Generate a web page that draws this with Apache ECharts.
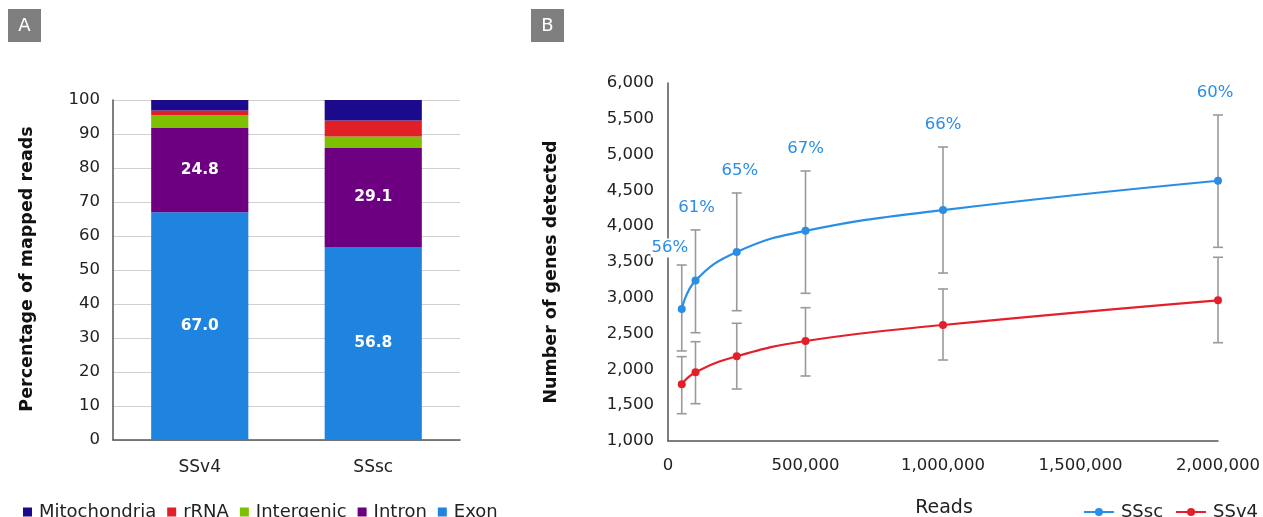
<!DOCTYPE html>
<html>
<head>
<meta charset="utf-8">
<script src="https://cdn.jsdelivr.net/npm/echarts@6/dist/echarts.min.js"></script>
<style>
  html, body { margin: 0; padding: 0; background: #fff; }
  #chart { width: 1263px; height: 517px; }
</style>
</head>
<body>
<div id="chart"></div>
<script>
// Panel A: composition of mapped reads (percent)
const libraries = ['SSv4', 'SSsc'];
const exon = [67.0, 56.8];
const intron = [24.8, 29.1];
const intergenic = [3.7, 3.4];
const rRNA = [1.4, 4.7];
const mitochondria = [3.1, 6.0];
const percentTicks = { min: 0, max: 100, step: 10 };

// Panel B: genes detected versus sequencing depth (mean with error range)
const reads = [50000, 100000, 250000, 500000, 1000000, 2000000];
const ssscMean = [2845, 3240, 3640, 3935, 4225, 4635];
const ssscLow = [2258, 2512, 2820, 3063, 3346, 3705];
const ssscHigh = [3458, 3948, 4464, 4771, 5106, 5553];
const ssv4Mean = [1792, 1959, 2183, 2397, 2620, 2965];
const ssv4Low = [1381, 1521, 1726, 1908, 2131, 2373];
const ssv4High = [2178, 2387, 2644, 2862, 3123, 3566];
const ssscRate = ['56%', '61%', '65%', '67%', '66%', '60%'];
const genesTicks = { min: 1000, max: 6000, step: 500 };
const readsTicks = { min: 0, max: 2000000, step: 500000 };

// label nudges (pixels) for the rate labels above the SSsc whiskers
const rateNudge = [[-12, 5], [1, 0], [3, 0], [0, 0], [0, 0], [-3, 0]];

const FONT = 'DejaVu Sans';
const TEXT = '#222222';
const COLORS = {
  Mitochondria: '#1c0a8c',
  rRNA: '#e01f26',
  Intergenic: '#7dc000',
  Intron: '#6c0080',
  Exon: '#1e84e0'
};
const BLUE = '#2a8de6';
const RED = '#e3202a';

const fmt = v => Number(v).toLocaleString('en-US');

function stackSeries(name, values, showLabel) {
  return {
    name: name,
    type: 'bar',
    stack: 'mapped',
    xAxisIndex: 0,
    yAxisIndex: 0,
    barWidth: '56%',
    itemStyle: { color: COLORS[name] },
    label: {
      show: showLabel,
      position: 'inside',
      color: '#ffffff',
      fontFamily: FONT,
      fontWeight: 'bold',
      fontSize: 15.5,
      formatter: p => p.value.toFixed(1)
    },
    data: values
  };
}

function errorSeries(name, lows, highs, texts) {
  return {
    name: name + ' range',
    type: 'custom',
    xAxisIndex: 1,
    yAxisIndex: 1,
    z: 1,
    silent: true,
    data: reads.map((r, i) => [r, lows[i], highs[i], i]),
    encode: { x: 0, y: [1, 2] },
    renderItem: function (params, api) {
      const x = api.value(0);
      const lo = api.coord([x, api.value(1)]);
      const hi = api.coord([x, api.value(2)]);
      const cap = 5;
      const style = { stroke: '#9a9a9a', lineWidth: 1.6 };
      const children = [
        { type: 'line', shape: { x1: lo[0], y1: lo[1], x2: hi[0], y2: hi[1] }, style: style },
        { type: 'line', shape: { x1: hi[0] - cap, y1: hi[1], x2: hi[0] + cap, y2: hi[1] }, style: style },
        { type: 'line', shape: { x1: lo[0] - cap, y1: lo[1], x2: lo[0] + cap, y2: lo[1] }, style: style }
      ];
      if (texts) {
        const i = api.value(3);
        const n = rateNudge[i];
        children.push({
          type: 'text',
          z2: 10,
          style: {
            text: texts[i],
            x: hi[0] + n[0],
            y: hi[1] - 22 + n[1],
            align: 'center',
            verticalAlign: 'middle',
            fill: BLUE,
            font: '16.5px "' + FONT + '"',
            backgroundColor: '#ffffff',
            padding: [1, 1]
          }
        });
      }
      return { type: 'group', children: children };
    }
  };
}

function lineSeries(name, means, color) {
  return {
    name: name,
    type: 'line',
    xAxisIndex: 1,
    yAxisIndex: 1,
    z: 3,
    smooth: 0.45,
    symbol: 'circle',
    symbolSize: 8,
    lineStyle: { color: color, width: 2.2 },
    itemStyle: { color: color },
    data: reads.map((r, i) => [r, means[i]])
  };
}

const chart = echarts.init(document.getElementById('chart'), null, { renderer: 'canvas' });

const option = {
  animation: false,
  backgroundColor: '#ffffff',
  textStyle: { fontFamily: FONT, color: TEXT },
  grid: [
    { left: 113, top: 100, width: 347, height: 340 },
    { left: 668, top: 83, width: 550, height: 358 }
  ],
  legend: [
    {
      data: ['Mitochondria', 'rRNA', 'Intergenic', 'Intron', 'Exon'],
      left: 18,
      top: 498,
      icon: 'rect',
      itemWidth: 9,
      itemHeight: 9,
      itemGap: 11,
      textStyle: { fontFamily: FONT, fontSize: 18, color: TEXT, padding: [0, 0, 0, 2] }
    },
    {
      data: ['SSsc', 'SSv4'],
      right: 0,
      top: 498,
      itemWidth: 30,
      itemHeight: 10,
      itemGap: 12,
      textStyle: { fontFamily: FONT, fontSize: 18, color: TEXT, padding: [0, 0, 0, 2] }
    }
  ],
  xAxis: [
    {
      gridIndex: 0,
      type: 'category',
      data: libraries,
      axisLine: { lineStyle: { color: '#555555', width: 1.5 } },
      axisTick: { show: false },
      axisLabel: { color: TEXT, fontFamily: FONT, fontSize: 17, margin: 19 }
    },
    {
      gridIndex: 1,
      type: 'value',
      min: readsTicks.min,
      max: readsTicks.max,
      interval: readsTicks.step,
      splitLine: { show: false },
      axisLine: { show: true, lineStyle: { color: '#555555', width: 1.5 } },
      axisTick: { show: false },
      axisLabel: { color: TEXT, fontFamily: FONT, fontSize: 16.5, margin: 16, formatter: fmt }
    }
  ],
  yAxis: [
    {
      gridIndex: 0,
      type: 'value',
      min: percentTicks.min,
      max: percentTicks.max,
      interval: percentTicks.step,
      axisLine: { show: true, lineStyle: { color: '#555555', width: 1.5 } },
      axisTick: { show: false },
      splitLine: { lineStyle: { color: '#d0d0d0', width: 1.2 } },
      axisLabel: { color: TEXT, fontFamily: FONT, fontSize: 16.5, margin: 13 }
    },
    {
      gridIndex: 1,
      type: 'value',
      min: genesTicks.min,
      max: genesTicks.max,
      interval: genesTicks.step,
      axisLine: { show: true, lineStyle: { color: '#555555', width: 1.5 } },
      axisTick: { show: false },
      splitLine: { show: false },
      axisLabel: { color: TEXT, fontFamily: FONT, fontSize: 16.5, margin: 14, formatter: fmt }
    }
  ],
  series: [
    stackSeries('Exon', exon, true),
    stackSeries('Intron', intron, true),
    stackSeries('Intergenic', intergenic, false),
    stackSeries('rRNA', rRNA, false),
    stackSeries('Mitochondria', mitochondria, false),
    errorSeries('SSv4', ssv4Low, ssv4High, null),
    errorSeries('SSsc', ssscLow, ssscHigh, ssscRate),
    lineSeries('SSsc', ssscMean, BLUE),
    lineSeries('SSv4', ssv4Mean, RED)
  ],
  graphic: [
    // panel tags
    { type: 'rect', left: 8, top: 9, shape: { width: 33, height: 33 }, style: { fill: '#7f7f7f' } },
    { type: 'text', x: 24.5, y: 26, style: { text: 'A', fill: '#ffffff', font: '18px "' + FONT + '"', align: 'center', verticalAlign: 'middle' } },
    { type: 'rect', left: 531, top: 9, shape: { width: 33, height: 33 }, style: { fill: '#7f7f7f' } },
    { type: 'text', x: 547.5, y: 26, style: { text: 'B', fill: '#ffffff', font: '18px "' + FONT + '"', align: 'center', verticalAlign: 'middle' } },
    // axis titles
    {
      type: 'text', x: 27, y: 269, rotation: Math.PI / 2,
      style: { text: 'Percentage of mapped reads', fill: '#111111', font: 'bold 17.5px "' + FONT + '"', align: 'center', verticalAlign: 'middle' }
    },
    {
      type: 'text', x: 551, y: 272, rotation: Math.PI / 2,
      style: { text: 'Number of genes detected', fill: '#111111', font: 'bold 17.5px "' + FONT + '"', align: 'center', verticalAlign: 'middle' }
    },
    {
      type: 'text', x: 944, y: 508,
      style: { text: 'Reads', fill: TEXT, font: '19px "' + FONT + '"', align: 'center', verticalAlign: 'middle' }
    }
  ]
};

chart.setOption(option);
</script>
</body>
</html>
